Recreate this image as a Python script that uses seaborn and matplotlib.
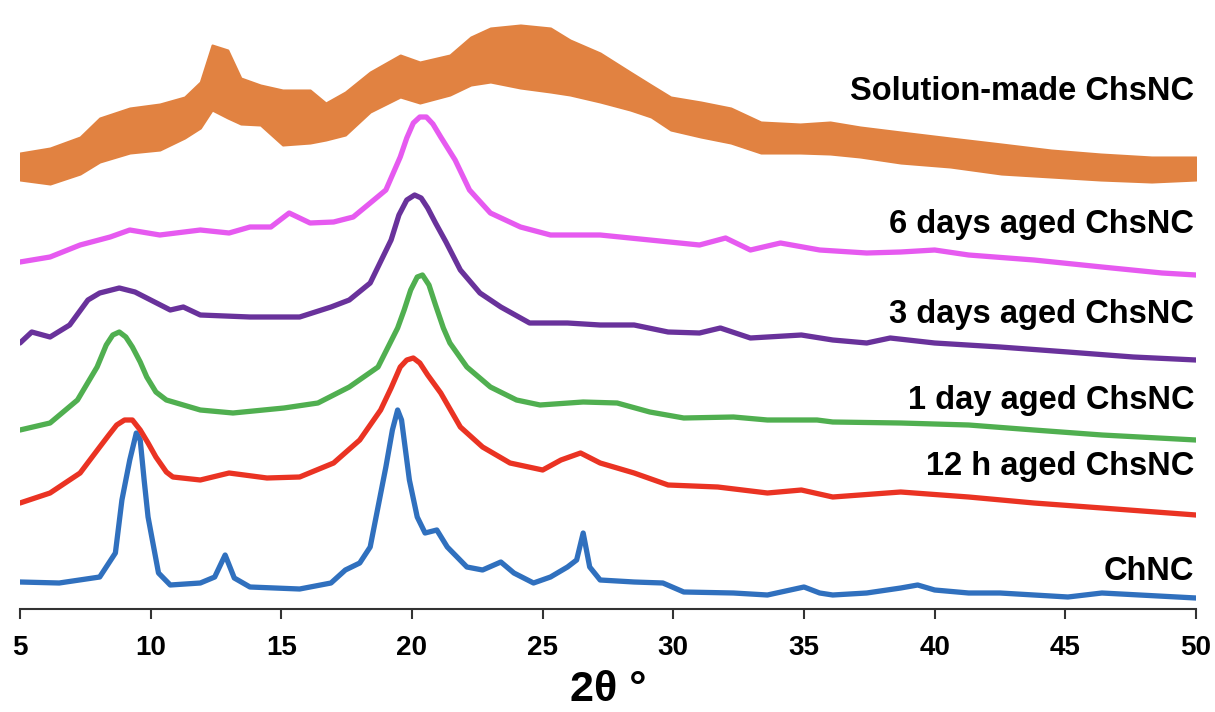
import numpy as np
import pandas as pd
import matplotlib
matplotlib.use("Agg")
import matplotlib.pyplot as plt
import seaborn as sns

# ---------------- data (intensity in a.u., stacked with offsets) ----------------
chnc_x = [5.0, 6.5, 8.05, 8.65, 8.9, 9.2, 9.45, 9.6, 9.75, 9.9, 10.3, 10.75, 11.9, 12.45, 12.85,
          13.2, 13.8, 15.7, 16.9, 17.45, 18.0, 18.4, 19.0, 19.25, 19.45, 19.6, 19.9, 20.2, 20.5,
          20.95, 21.35, 22.1, 22.7, 23.4, 23.9, 24.65, 25.3, 25.95, 26.3, 26.55, 26.8, 27.2,
          28.5, 29.6, 30.4, 32.3, 33.6, 35.0, 35.6, 36.1, 37.4, 38.7, 39.35, 40.0, 41.3, 42.5,
          45.1, 46.4, 50.0]
chnc_y = [18, 17, 23, 47, 100, 140, 167, 160, 120, 83, 27, 15, 17, 23, 45,
          22, 13, 11, 17, 30, 37, 53, 133, 170, 190, 180, 120, 83, 67,
          70, 53, 33, 30, 38, 27, 17, 23, 33, 40, 67, 33, 20,
          18, 17, 8, 7, 5, 13, 7, 5, 7, 12, 15, 10, 7, 7,
          3, 7, 2]

h12_x = [5.0, 6.15, 7.3, 8.05, 8.4, 8.7, 9.0, 9.3, 9.6, 9.9, 10.2, 10.6, 10.85, 11.9, 13.0,
         14.45, 15.7, 17.0, 18.0, 18.8, 19.2, 19.55, 19.8, 20.05, 20.3, 20.6, 21.1, 21.85,
         22.7, 23.75, 25.0, 25.7, 26.45, 27.2, 28.5, 29.8, 31.7, 33.6, 34.9, 36.1, 38.7,
         41.3, 43.8, 46.4, 50.0]
h12_y = [97, 107, 127, 153, 165, 175, 180, 180, 170, 157, 143, 128, 123, 120, 127,
         122, 123, 137, 160, 190, 212, 233, 240, 242, 237, 225, 207, 173,
         153, 137, 130, 140, 147, 137, 127, 115, 113, 107, 110, 103, 108,
         103, 97, 92, 85]

d1_x = [5.0, 6.15, 7.2, 7.95, 8.3, 8.55, 8.8, 9.05, 9.3, 9.6, 9.85, 10.2, 10.6, 11.9, 13.15,
        15.1, 16.4, 17.6, 18.7, 19.45, 19.7, 19.95, 20.2, 20.4, 20.65, 20.9, 21.2, 21.45,
        22.1, 23.0, 24.0, 24.9, 26.55, 27.85, 29.1, 30.4, 32.3, 33.6, 35.5, 36.1, 38.7,
        41.3, 43.8, 46.4, 50.0]
d1_y = [170, 177, 200, 233, 255, 265, 268, 263, 253, 238, 223, 208, 200, 190, 187,
        192, 197, 213, 233, 272, 290, 310, 323, 325, 315, 295, 272, 257,
        233, 213, 200, 195, 198, 197, 188, 182, 183, 180, 180, 178, 177,
        175, 170, 165, 160]

d3_x = [5.0, 5.45, 6.15, 6.9, 7.6, 8.05, 8.8, 9.4, 10.0, 10.75, 11.25, 11.9, 13.8, 15.7, 16.9,
        17.6, 18.4, 19.2, 19.5, 19.8, 20.1, 20.35, 20.6, 20.9, 21.3, 21.85, 22.6, 23.4, 24.5,
        25.95, 27.2, 28.5, 29.8, 31.0, 31.8, 32.95, 34.9, 36.1, 37.4, 38.3, 40.0, 42.5, 45.1,
        47.6, 50.0]
d3_y = [257, 268, 263, 275, 300, 307, 312, 308, 300, 290, 293, 285, 283, 283, 293,
        300, 317, 360, 385, 400, 405, 402, 392, 377, 358, 330, 307, 293, 277,
        277, 275, 275, 268, 267, 272, 262, 265, 260, 257, 262, 257, 253, 248,
        243, 240]

d6_x = [5.0, 6.15, 7.3, 8.45, 9.2, 10.35, 11.9, 13.0, 13.8, 14.6, 15.3, 16.1, 17.0, 17.75,
        18.4, 19.0, 19.55, 19.8, 20.05, 20.3, 20.55, 20.8, 21.1, 21.65, 22.2, 23.0, 24.15,
        25.3, 27.2, 29.1, 31.0, 32.0, 32.95, 34.1, 35.6, 37.4, 38.7, 40.0, 41.3, 43.8, 46.4,
        48.7, 50.0]
d6_y = [338, 343, 355, 363, 370, 365, 370, 367, 373, 373, 387, 377, 378, 383,
        397, 410, 443, 462, 477, 483, 483, 476, 463, 440, 410, 387, 373,
        365, 365, 360, 355, 362, 350, 357, 350, 347, 348, 350, 345, 340, 333,
        327, 325]

sol_x = [5.0, 6.15, 7.3, 8.05, 9.2, 10.35, 11.3, 11.9, 12.35, 12.95, 13.45, 14.2, 15.05, 16.1,
         16.7, 17.45, 18.4, 19.55, 20.3, 21.45, 22.25, 23.0, 24.15, 25.3, 26.05, 27.2, 28.35,
         29.15, 29.9, 31.05, 32.2, 33.35, 34.85, 36.0, 37.15, 38.7, 40.6, 42.55, 44.45,
         46.35, 48.3, 50.0]
sol_low = [420, 416, 426, 438, 447, 450, 462, 472, 490, 482, 476, 475, 455, 457,
           460, 465, 488, 503, 497, 505, 515, 518, 512, 508, 505, 498, 490,
           483, 470, 463, 457, 447, 447, 446, 443, 437, 433, 426, 423,
           420, 418, 420]
sol_high = [447, 452, 463, 482, 492, 496, 503, 518, 555, 550, 522, 515, 510, 510,
            497, 508, 528, 545, 538, 545, 563, 572, 575, 572, 560, 547, 528,
            515, 503, 498, 492, 478, 476, 478, 473, 468, 462, 456, 450,
            446, 443, 443]

labels = ["ChNC", "12 h aged ChsNC", "1 day aged ChsNC", "3 days aged ChsNC",
          "6 days aged ChsNC", "Solution-made ChsNC"]
label_y = [28, 133, 199, 285, 375, 508]
xticks = [5, 10, 15, 20, 25, 30, 35, 40, 45, 50]

colors = {"ChNC": "#3070BE", "12 h aged ChsNC": "#EA3323", "1 day aged ChsNC": "#50AF50",
          "3 days aged ChsNC": "#69329B", "6 days aged ChsNC": "#E65AF0",
          "Solution-made ChsNC": "#E18241"}

# ---------------- figure ----------------
sns.set_theme(style="white")
plt.rcParams["font.family"] = ["Liberation Sans", "DejaVu Sans"]

fig = plt.figure(figsize=(12.15, 7.12), dpi=100)
ax = fig.add_axes([20 / 1215, (712 - 609) / 712, 1176 / 1215, 599 / 712])

series = [(chnc_x, chnc_y, labels[0]), (h12_x, h12_y, labels[1]), (d1_x, d1_y, labels[2]),
          (d3_x, d3_y, labels[3]), (d6_x, d6_y, labels[4])]
for xs, ys, name in series:
    df = pd.DataFrame({"x": xs, "y": ys})
    sns.lineplot(data=df, x="x", y="y", ax=ax, color=colors[name], linewidth=3.8,
                 estimator=None, sort=False)

ax.fill_between(sol_x, sol_low, sol_high, color=colors[labels[5]], linewidth=1.5,
                edgecolor=colors[labels[5]])

for name, yy in zip(labels, label_y):
    ax.text(49.93, yy, name, ha="right", va="center", fontsize=23.5, fontweight="bold",
            color="black")

ax.set_xlim(5, 50)
ax.set_ylim(-9, 590)
ax.set_xticks(xticks)
ax.set_xticklabels([str(t) for t in xticks], fontsize=20, fontweight="bold", color="black")
ax.set_yticks([])
ax.set_ylabel("")
ax.set_xlabel("2θ °", fontsize=31, fontweight="bold", labelpad=6, color="black")
for s in ["top", "right", "left"]:
    ax.spines[s].set_visible(False)
ax.spines["bottom"].set_color("#333333")
ax.spines["bottom"].set_linewidth(1.5)
ax.tick_params(axis="x", direction="out", length=7, width=1.5, color="#333333",
               pad=12, bottom=True)
ax.patch.set_alpha(0)

fig.savefig("out.png", dpi=100, facecolor="white")
